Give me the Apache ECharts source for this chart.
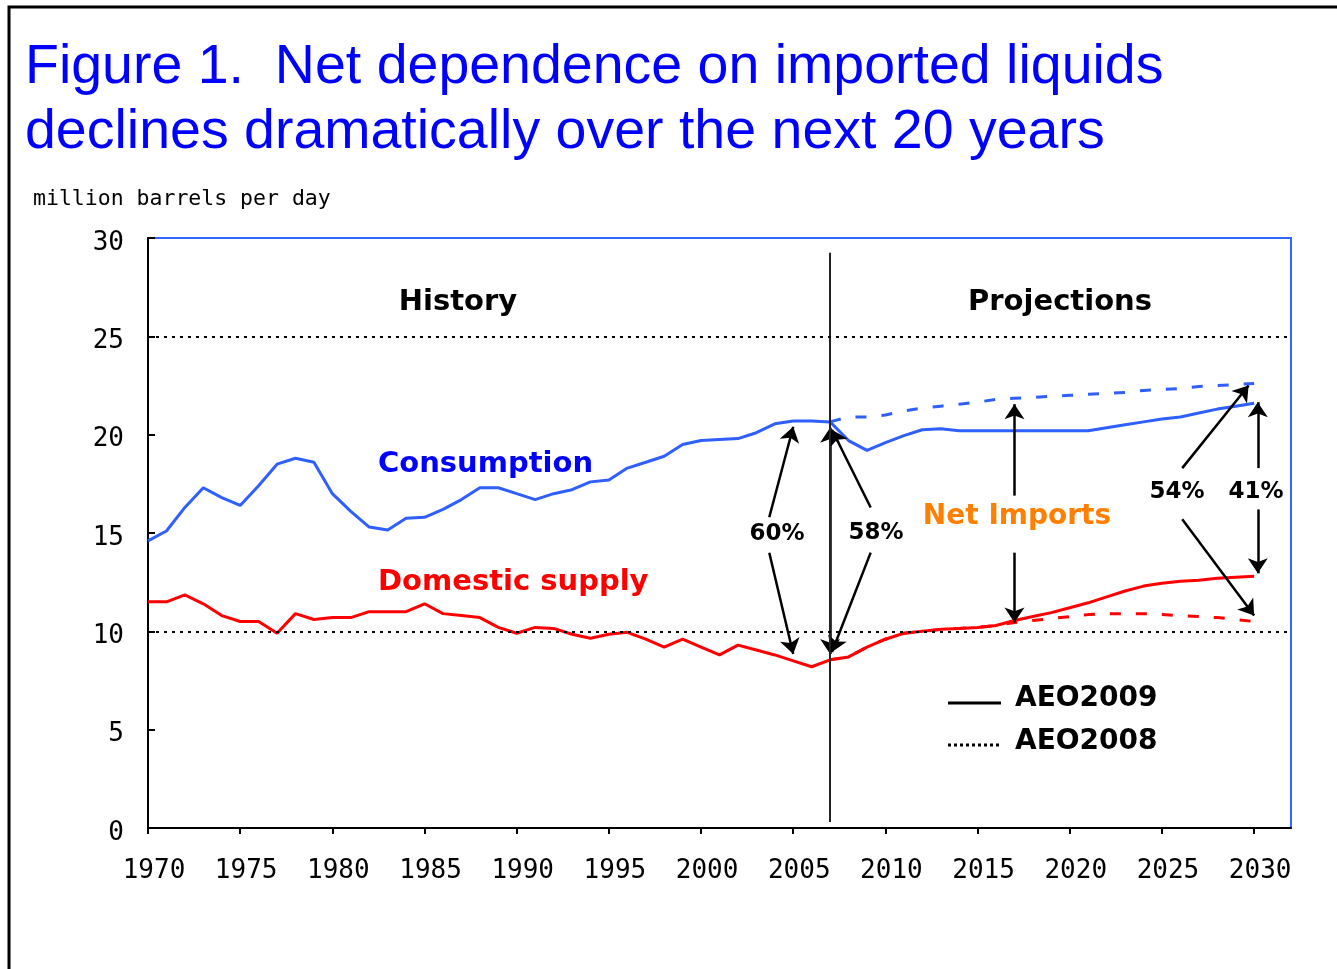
<!DOCTYPE html>
<html>
<head>
<meta charset="utf-8">
<script src="https://cdn.jsdelivr.net/npm/echarts@6/dist/echarts.min.js"></script>
<style>html,body{margin:0;padding:0;background:#fff;}#c{width:1337px;height:969px;}</style>
</head>
<body>
<div id="c"></div>
<script>
// ---- data (million barrels per day) ----
const histStart = 1970;
const consHist = [14.6,15.1,16.3,17.3,16.8,16.4,17.4,18.5,18.8,18.6,
                  17.0,16.1,15.3,15.15,15.75,15.8,16.2,16.7,17.3,17.3,
                  17.0,16.7,17.0,17.2,17.6,17.7,18.3,18.6,18.9,19.5,
                  19.7,19.75,19.8,20.1,20.55,20.7,20.7,20.65];
const supHist  = [11.5,11.5,11.85,11.4,10.8,10.5,10.5,9.9,10.9,10.6,
                  10.7,10.7,11.0,11.0,11.0,11.4,10.9,10.8,10.7,10.2,
                  9.9,10.2,10.15,9.85,9.65,9.85,9.95,9.6,9.2,9.6,
                  9.2,8.8,9.3,9.05,8.8,8.5,8.2,8.55];
const projStart = 2007;
const consAEO2009 = [20.65,19.7,19.2,19.6,19.95,20.25,20.3,20.2,20.2,20.2,
                     20.2,20.2,20.2,20.2,20.2,20.35,20.5,20.65,20.8,20.9,
                     21.1,21.3,21.45,21.6];
const supAEO2009  = [8.55,8.7,9.2,9.6,9.9,10.0,10.1,10.15,10.2,10.3,
                     10.55,10.75,10.95,11.2,11.45,11.75,12.05,12.3,12.45,12.55,
                     12.6,12.7,12.75,12.8];
const consAEO2008 = [20.65,20.9,20.9,21.0,21.2,21.35,21.45,21.55,21.65,21.8,
                     21.85,21.9,21.95,22.0,22.05,22.1,22.15,22.25,22.3,22.35,
                     22.45,22.5,22.55,22.6];
const supAEO2008  = [8.55,8.7,9.2,9.6,9.9,10.0,10.1,10.15,10.2,10.3,
                     10.45,10.55,10.65,10.75,10.85,10.9,10.9,10.9,10.85,10.8,
                     10.75,10.7,10.6,10.5];
const yTicks = [0,5,10,15,20,25,30];
const xTickYears = [1970,1975,1980,1985,1990,1995,2000,2005,2010,2015,2020,2025,2030];
const shares = {y2005:'60%', y2007:'58%', y2030v08:'54%', y2030v09:'41%'};
const legendNames = ['AEO2009','AEO2008'];

// ---- build ----
function pairs(arr, start){ return arr.map((v,i)=>[start+i, v]); }
function at(arr, start, yr){ return arr[yr-start]; }
const consAll = pairs(consHist, histStart).concat(pairs(consAEO2009.slice(1), projStart+1));
const supAll  = pairs(supHist, histStart).concat(pairs(supAEO2009.slice(1), projStart+1));
const cons = yr => yr < projStart ? at(consHist,histStart,yr) : at(consAEO2009,projStart,yr);
const sup  = yr => yr < projStart ? at(supHist,histStart,yr) : at(supAEO2009,projStart,yr);
const cons08 = yr => at(consAEO2008,projStart,yr);
const sup08  = yr => at(supAEO2008,projStart,yr);

const BLUE = '#2f5fff', RED = '#ff0000';
const arrowStyle = {color:'#000', width:2.5, type:'solid'};
function arrow(from, to){ return [{coord:from, lineStyle:arrowStyle}, {coord:to}]; }

const arrows = [
  arrow([2003.7,15.8],[2005, cons(2005)-0.3]),
  arrow([2003.7,14.0],[2005, sup(2005)+0.35]),
  arrow([2007,15],[2007, cons(2007)-0.3]),
  arrow([2007,15],[2007, sup(2007)+0.3]),
  arrow([2009.2,16.3],[2007.1, cons(2007)-0.4]),
  arrow([2009.2,14.0],[2007.1, sup(2007)+0.4]),
  arrow([2017,16.9],[2017, cons08(2017)-0.3]),
  arrow([2017,14.0],[2017, sup(2017)-0.1]),
  arrow([2026.1,18.3],[2029.7, cons08(2030)-0.1]),
  arrow([2026.1,15.7],[2030, sup08(2030)+0.3]),
  arrow([2030.2,18.3],[2030.2, cons(2030)+0.05]),
  arrow([2030.2,16.2],[2030.2, sup(2030)+0.15])
];
const divider = [[{coord:[projStart,29.25], lineStyle:{color:'#222', width:2, type:'solid'}, symbol:'none'},{coord:[projStart,0.3], symbol:'none'}]];

const chart = echarts.init(document.getElementById('c'));
const lblFont = 'DejaVu Sans Mono';
const boldTxt = (t, x, y, size, color, align) => ({type:'text', x, y,
  style:{text:t, font:'bold '+size+'px "DejaVu Sans"', fill:color, align:align||'center', verticalAlign:'middle'}});
chart.setOption({
  animation:false,
  backgroundColor:'#fff',
  title:[
    {text:'Figure 1.  Net dependence on imported liquids\ndeclines dramatically over the next 20 years',
     left:25, top:35, padding:0,
     textStyle:{fontFamily:'Liberation Sans', fontSize:55.5, fontWeight:'normal', color:'#0000ff', lineHeight:65}},
    {text:'million barrels per day', left:33, top:188, padding:0,
     textStyle:{fontFamily:lblFont, fontSize:21.5, fontWeight:'normal', color:'#000'}}
  ],
  grid:{left:148, top:238, right:46, bottom:141, show:true, borderColor:'#3366ff', borderWidth:2, containLabel:false},
  xAxis:{
    type:'value', min:1970, max:2032, interval:5,
    splitLine:{show:false},
    axisLine:{show:true, onZero:false, lineStyle:{color:'#000', width:2}},
    axisTick:{show:true, length:6, lineStyle:{color:'#000', width:2},
      customValues: xTickYears},
    axisLabel:{margin:30, fontFamily:lblFont, fontSize:26, color:'#000', padding:[0,0,0,12],
      customValues: xTickYears,
      formatter: v => String(v)}
  },
  yAxis:{
    type:'value', min:0, max:30, interval:5,
    splitLine:{show:false},
    axisLine:{show:true, lineStyle:{color:'#000', width:2}},
    axisTick:{show:true, inside:true, length:7, lineStyle:{color:'#000', width:2}},
    axisLabel:{margin:24, fontFamily:lblFont, fontSize:26, color:'#000', verticalAlign:'top', lineHeight:10,
      formatter: v => yTicks.includes(v) ? String(v) : ''}
  },
  series:[
    {name:'Consumption AEO2008', type:'line', data:pairs(consAEO2008, projStart), symbol:'none',
     lineStyle:{color:BLUE, width:3, type:[11,15]}, z:2},
    {name:'Domestic supply AEO2008', type:'line', data:pairs(supAEO2008, projStart), symbol:'none',
     lineStyle:{color:RED, width:3, type:[11,15]}, z:2},
    {name:'Consumption', type:'line', data:consAll, symbol:'none',
     lineStyle:{color:BLUE, width:3}, z:3,
     markLine:{silent:true, symbol:['none','arrow'], symbolSize:15, label:{show:false},
       data: arrows.concat(divider)}},
    {name:'Domestic supply', type:'line', data:supAll, symbol:'none',
     lineStyle:{color:RED, width:3}, z:3,
     markLine:{silent:true, symbol:['none','none'], label:{show:false},
       lineStyle:{color:'#000', width:2, type:[3,5]},
       data:[{yAxis:10},{yAxis:25}]}}
  ],
  graphic:[
    {type:'rect', shape:{x:9, y:7, width:1400, height:1100}, style:{fill:'none', stroke:'#000', lineWidth:3}, z:100, silent:true},
    boldTxt('History', 458, 302, 29, '#000'),
    boldTxt('Projections', 1060, 302, 29, '#000'),
    boldTxt('Consumption', 378, 464, 29, '#0000ff', 'left'),
    boldTxt('Domestic supply', 378, 582, 29, '#ff0000', 'left'),
    boldTxt('Net Imports', 1017, 517, 28, '#ff8000'),
    boldTxt(shares.y2005, 777, 534, 23, '#000'),
    boldTxt(shares.y2007, 876, 533, 23, '#000'),
    boldTxt(shares.y2030v08, 1177, 492, 23, '#000'),
    boldTxt(shares.y2030v09, 1256, 492, 23, '#000'),
    // legend
    {type:'line', shape:{x1:948, y1:703, x2:1001, y2:703}, style:{stroke:'#000', lineWidth:3}},
    {type:'line', shape:{x1:948, y1:745, x2:1001, y2:745}, style:{stroke:'#000', lineWidth:3, lineDash:[3,3]}},
    boldTxt(legendNames[0], 1015, 699, 28, '#000', 'left'),
    boldTxt(legendNames[1], 1015, 742, 28, '#000', 'left')
  ]
});
</script>
</body>
</html>
